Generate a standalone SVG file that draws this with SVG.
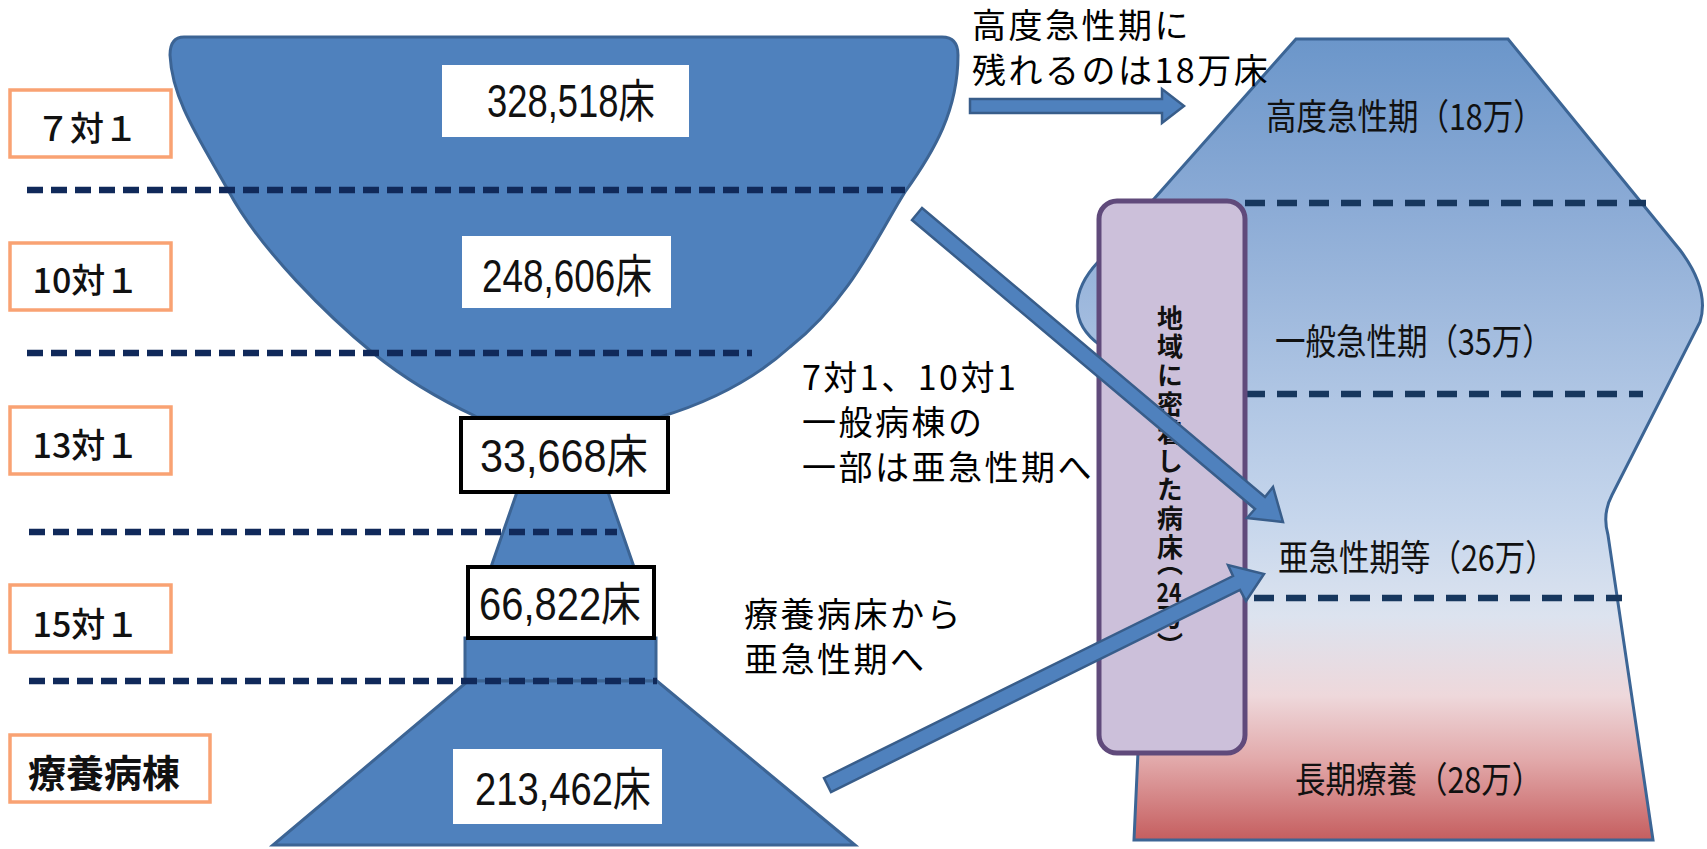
<svg xmlns="http://www.w3.org/2000/svg" width="1707" height="849" viewBox="0 0 1707 849">
<style>
.lbl{fill:#fff;stroke:#F9A273;stroke-width:3.5}
.lt{font-family:"Noto Sans CJK JP",sans-serif;font-size:34px;font-weight:500;fill:#111;text-anchor:middle}
.num{font-family:"Liberation Sans Narrow","Liberation Sans","Noto Sans CJK JP",sans-serif;font-size:46px;fill:#111;text-anchor:middle}
.wb{fill:#fff}
.bb{fill:#fff;stroke:#000;stroke-width:4}
.fun{fill:#4F81BD;stroke:#3C6494;stroke-width:3}
.dash{stroke:#10295A;stroke-width:6.5;stroke-dasharray:16 8;fill:none}
.dash2{stroke:#17375E;stroke-width:6.5;stroke-dasharray:20 12;fill:none}
.ann{font-family:"Noto Sans CJK JP",sans-serif;font-size:34px;letter-spacing:2.5px;fill:#000}
.rt{font-family:"Noto Sans CJK JP",sans-serif;font-size:30.5px;fill:#111}
.vt{font-family:"Noto Sans CJK JP",sans-serif;font-size:26px;font-weight:bold;fill:#111;writing-mode:vertical-rl;letter-spacing:2.6px}
.arr{fill:#4F81BD;stroke:#385D8A;stroke-width:2.5;stroke-linejoin:miter}
</style>
<defs>
<linearGradient id="rg" x1="0" y1="0" x2="0" y2="1">
<stop offset="0" stop-color="#6B96CA"/>
<stop offset="0.2" stop-color="#8AAAD5"/>
<stop offset="0.45" stop-color="#B0C6E4"/>
<stop offset="0.6" stop-color="#C6D6EC"/>
<stop offset="0.72" stop-color="#DCE3EF"/>
<stop offset="0.82" stop-color="#EED8DB"/>
<stop offset="0.9" stop-color="#E2A9AA"/>
<stop offset="1" stop-color="#C55E5F"/>
</linearGradient>
</defs>
<rect width="1707" height="849" fill="#fff"/>

<g id="right-shape">
<path d="M1296,39 L1508,39 L1680,250 Q1710,290 1700,322 L1612,495 Q1602,514 1608,535 L1653,840 L1134,840 L1138,752 L1100,345 C1068,322 1072,290 1098,262 Z" fill="url(#rg)" stroke="#3C6595" stroke-width="3"/>
<line class="dash2" x1="1245" y1="203" x2="1646" y2="203"/>
<line class="dash2" x1="1245" y1="394" x2="1643" y2="394"/>
<line class="dash2" x1="1254" y1="598" x2="1622" y2="598"/>
<text class="rt" transform="translate(1266,130) scale(1,1.18)">高度急性期（18万）</text>
<text class="rt" transform="translate(1275,355) scale(1,1.18)">一般急性期（35万）</text>
<text class="rt" transform="translate(1278,571) scale(1,1.18)">亜急性期等（26万）</text>
<text class="rt" transform="translate(1295,793) scale(1,1.18)">長期療養（28万）</text>
</g>

<g id="community-beds">
<rect x="1099" y="201" width="146" height="552" rx="18" fill="#CCC0DA" stroke="#604A7B" stroke-width="5"/>
<text class="vt" x="1170" y="305">地域に密着した病床</text>
<text class="vt" x="1170" y="550">（</text>
<text x="1169" y="602" textLength="25" lengthAdjust="spacingAndGlyphs" style="font-family:'Noto Sans CJK JP',sans-serif;font-size:26px;font-weight:bold;fill:#111;text-anchor:middle">24</text>
<text class="vt" x="1170" y="604">万）</text>
</g>

<g id="funnel">
<path class="fun" d="M184,37 L942,37 Q958,37 958,55 C958,110 935,150 905,192 C878,235 850,300 790,347 C750,383 700,405 660,417 L477,417 C430,395 400,375 373,353 C330,318 260,250 228,190 C200,140 172,100 170,55 Q170,37 184,37 Z"/>
<polygon class="fun" points="517,492 608,492 634,567 491,567"/>
<rect class="fun" x="465" y="638" width="191" height="43"/>
<polygon class="fun" points="468,681 657,681 855,845 273,845"/>
</g>

<g id="dashes">
<line class="dash" x1="27" y1="190" x2="905" y2="190"/>
<line class="dash" x1="27" y1="353" x2="752" y2="353"/>
<line class="dash" x1="29" y1="532" x2="617" y2="532"/>
<line class="dash" x1="29" y1="681" x2="657" y2="681"/>
</g>

<g id="label-7">
<rect class="lbl" x="10" y="90" width="161" height="67"/>
<text class="lt" x="87" y="141">７対１</text>
</g>
<g id="label-10">
<rect class="lbl" x="10" y="243" width="161" height="67"/>
<text class="lt" x="86" y="293">10対１</text>
</g>
<g id="label-13">
<rect class="lbl" x="10" y="407" width="161" height="67"/>
<text class="lt" x="86" y="458">13対１</text>
</g>
<g id="label-15">
<rect class="lbl" x="10" y="585" width="161" height="67"/>
<text class="lt" x="86" y="637">15対１</text>
</g>
<g id="label-ryoyo">
<rect class="lbl" x="10" y="735" width="200" height="67"/>
<text class="lt" x="104" y="787" style="font-weight:bold;font-size:38px">療養病棟</text>
</g>

<g id="n-328518">
<rect class="wb" x="442" y="65" width="247" height="72"/>
<text class="num" x="571" y="117" textLength="168" lengthAdjust="spacingAndGlyphs">328,518床</text>
</g>
<g id="n-248606">
<rect class="wb" x="462" y="236" width="209" height="72"/>
<text class="num" x="567" y="292" textLength="170" lengthAdjust="spacingAndGlyphs">248,606床</text>
</g>
<g id="n-33668">
<rect class="bb" x="461" y="418" width="207" height="74"/>
<text class="num" x="564" y="472" textLength="168" lengthAdjust="spacingAndGlyphs">33,668床</text>
</g>
<g id="n-66822">
<rect class="bb" x="468" y="567" width="186" height="71"/>
<text class="num" x="560" y="620" textLength="162" lengthAdjust="spacingAndGlyphs">66,822床</text>
</g>
<g id="n-213462">
<rect class="wb" x="453" y="749" width="209" height="75"/>
<text class="num" x="563" y="805" textLength="176" lengthAdjust="spacingAndGlyphs">213,462床</text>
</g>

<g id="annotations">
<text class="ann" x="972" y="38">高度急性期に</text>
<text class="ann" x="972" y="83">残れるのは18万床</text>
<text class="ann" x="802" y="390">7対1、10対1</text>
<text class="ann" x="802" y="435">一般病棟の</text>
<text class="ann" x="802" y="480">一部は亜急性期へ</text>
<text class="ann" x="744" y="627">療養病床から</text>
<text class="ann" x="744" y="672">亜急性期へ</text>
</g>

<g id="connectors">
<polygon class="arr" points="970,99 1162,99 1162,89 1184,106 1162,123 1162,113 970,113"/>
<polygon class="arr" points="922,208 1265,497 1273,487 1283,522 1247,518 1255,509 912,220"/>
<polygon class="arr" points="824,778 1233,576 1228,565 1264,574 1246,601 1240,590 831,792"/>
</g>
</svg>
